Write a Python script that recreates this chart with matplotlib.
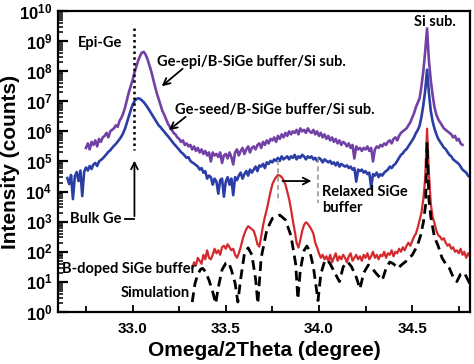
import numpy as np
import matplotlib
matplotlib.use('Agg')
import matplotlib.pyplot as plt
from matplotlib.ticker import FixedLocator, LogLocator, FuncFormatter, NullFormatter

plt.rcParams['mathtext.fontset'] = 'custom'
plt.rcParams['mathtext.rm'] = 'Liberation Sans:bold'
plt.rcParams['mathtext.bf'] = 'Liberation Sans:bold'

# log10(counts), 0.01 deg steps
epi_start, epi_stop = 32.75, 34.77
epi_log = [
    5.45, 5.6, 5.4, 5.65, 5.55, 5.7, 5.5, 5.75, 5.65, 5.8,
    5.85, 5.95, 5.8, 6.0, 6.05, 6.1, 6.2, 6.15, 6.35, 6.45,
    6.6, 6.8, 7.05, 7.3, 7.5, 7.7, 7.95, 8.15, 8.35, 8.5,
    8.62, 8.64, 8.55, 8.4, 8.2, 8.0, 7.75, 7.5, 7.27, 7.07,
    6.88, 6.68, 6.55, 6.4, 6.25, 6.15, 6.05, 5.95, 5.9, 5.8,
    5.75, 5.65, 5.7, 5.55, 5.6, 5.5, 5.55, 5.4, 5.5, 5.35,
    5.45, 5.3, 5.4, 5.25, 5.35, 5.2, 5.3, 5.0, 5.3, 5.2,
    5.25, 5.15, 5.3, 4.95, 5.2, 5.25, 5.1, 5.3, 5.15, 4.9,
    5.3, 5.4, 5.2, 5.35, 5.45, 5.25, 5.4, 5.5, 5.3, 5.45,
    5.5, 5.4, 5.55, 5.6, 5.45, 5.65, 5.55, 5.7, 5.6, 5.75,
    5.7, 5.8, 5.65, 5.85, 5.75, 5.9, 5.8, 5.95, 5.85, 6.0,
    5.9, 6.0, 5.95, 6.05, 5.9, 6.1, 6.0, 6.05, 5.95, 6.1,
    6.0, 5.95, 6.05, 5.9, 6.0, 5.85, 5.95, 5.8, 5.9, 5.75,
    5.85, 5.7, 5.8, 5.65, 5.75, 5.6, 5.7, 5.55, 5.65, 5.6,
    5.5, 5.6, 5.45, 5.55, 5.1, 5.5, 5.4, 5.45, 5.35, 5.45,
    5.4, 5.5, 5.35, 5.45, 5.0, 5.4, 5.5, 5.45, 5.55, 5.5,
    5.6, 5.55, 5.65, 5.7, 5.6, 5.75, 5.8, 5.7, 5.85, 5.95,
    6.0, 6.05, 6.1, 6.2, 6.3, 6.45, 6.6, 6.8, 6.95, 7.1,
    7.5, 8.0, 8.65, 9.42, 8.35, 7.7, 7.2, 6.8, 6.55, 6.4,
    6.3, 6.2, 6.1, 6.05, 6.0, 5.95, 5.9, 5.8, 5.85, 5.7,
    5.75, 5.6, 5.55,
]

seed_start, seed_stop = 32.65, 34.81
seed_log = [
    4.45, 4.25, 4.55, 3.75, 4.5, 4.65, 4.35, 4.7, 3.85, 4.65,
    4.8, 4.7, 4.85, 4.75, 4.9, 4.95, 4.85, 5.0, 5.05, 5.1,
    5.17, 5.24, 5.32, 5.37, 5.45, 5.52, 5.58, 5.66, 5.74, 5.83,
    5.95, 6.1, 6.3, 6.5, 6.7, 6.88, 7.0, 7.07, 7.1, 7.08,
    7.03, 6.97, 6.89, 6.8, 6.7, 6.6, 6.5, 6.4, 6.3, 6.2,
    6.14, 6.06, 5.99, 5.91, 5.84, 5.76, 5.68, 5.6, 5.53, 5.46,
    5.39, 5.31, 5.26, 5.19, 5.12, 5.14, 5.02, 4.97, 4.93, 4.88,
    4.83, 4.73, 4.78, 4.63, 4.68, 4.43, 4.53, 4.48, 4.23, 4.43,
    4.33, 3.93, 4.38, 4.43, 3.83, 4.33, 4.48, 4.23, 4.43, 3.88,
    4.48, 4.38, 4.53, 4.63, 4.43, 4.58, 4.68, 4.53, 4.73, 4.63,
    4.73, 4.83, 4.68, 4.87, 4.83, 4.92, 4.78, 4.97, 4.92, 5.02,
    4.97, 5.07, 5.02, 5.12, 5.02, 5.17, 5.07, 5.12, 5.17, 5.07,
    5.17, 5.12, 5.22, 5.07, 5.17, 5.12, 5.22, 5.17, 5.07, 5.17,
    5.12, 5.17, 5.07, 5.12, 5.02, 5.12, 5.07, 4.97, 5.07, 5.02,
    4.97, 5.02, 4.92, 4.97, 4.87, 4.97, 4.83, 4.92, 4.87, 4.83,
    4.87, 4.78, 4.83, 4.73, 4.78, 4.33, 4.73, 4.68, 4.73, 4.63,
    4.68, 4.58, 4.63, 4.13, 4.58, 4.53, 4.63, 4.48, 4.58, 4.53,
    4.63, 4.68, 4.73, 4.83, 4.78, 4.87, 4.92, 5.02, 5.12, 5.22,
    5.27, 5.36, 5.41, 5.51, 5.6, 5.7, 5.8, 5.94, 6.04, 6.19,
    6.48, 6.87, 7.36, 8.05, 7.27, 6.68, 6.33, 6.09, 5.9, 5.75,
    5.65, 5.56, 5.46, 5.41, 5.31, 5.22, 5.17, 5.07, 5.02, 4.97,
    4.92, 4.83, 4.73, 4.68, 4.63, 4.53, 4.48,
]

bsige_start, bsige_stop = 33.32, 34.81
bsige_log = [
    1.45, 1.65, 1.55, 1.8, 1.7, 1.6, 1.9, 1.75, 2.05, 1.8,
    1.75, 1.9, 2.1, 1.95, 2.05, 1.9, 2.15, 2.2, 2.1, 2.25,
    2.15, 2.05, 2.1, 1.9, 1.8, 1.95, 2.15, 2.4, 2.6, 2.75,
    2.85, 2.8, 2.75, 2.7, 2.5, 2.25, 2.17, 2.5, 2.87, 3.16,
    3.4, 3.7, 3.99, 4.24, 4.38, 4.48, 4.55, 4.53, 4.48, 4.38,
    4.24, 4.0, 3.75, 3.42, 3.03, 2.69, 2.3, 2.14, 2.39, 2.69,
    2.89, 2.98, 2.93, 2.84, 2.74, 2.6, 2.3, 2.14, 1.95, 1.8,
    1.9, 1.75, 1.85, 1.7, 1.9, 1.65, 1.8, 1.95, 1.7, 1.85,
    1.75, 1.9, 1.8, 1.65, 1.85, 1.95, 1.7, 1.8, 1.9, 1.75,
    1.85, 1.7, 1.9, 1.8, 1.95, 1.75, 1.85, 2.0, 1.8, 1.9,
    1.75, 1.9, 1.85, 2.0, 1.8, 1.95, 1.9, 2.05, 1.85, 2.0,
    1.95, 2.1, 2.0, 2.15, 2.05, 2.2, 2.3, 2.2, 2.35, 2.5,
    2.6, 2.8, 3.05, 3.3, 3.75, 4.43, 6.09, 4.6, 3.6, 3.15,
    2.95, 2.7, 2.55, 2.5, 2.4, 2.45, 2.3, 2.2, 2.25, 2.1,
    2.15, 2.0, 2.05, 1.95, 2.1, 1.9, 2.0, 1.8, 1.95, 1.85,
]

sim_x = [33.32, 33.335, 33.35, 33.365, 33.376, 33.39, 33.41, 33.43, 33.446, 33.46,
         33.48, 33.50, 33.515, 33.53, 33.55, 33.565, 33.58, 33.60, 33.62, 33.64,
         33.66, 33.672, 33.69, 33.72, 33.75, 33.79, 33.82, 33.85, 33.875, 33.887,
         33.90, 33.92, 33.935, 33.95, 33.97, 33.995, 34.01, 34.03, 34.045, 34.06,
         34.085, 34.11, 34.13, 34.155, 34.175, 34.20, 34.22, 34.24, 34.265, 34.285,
         34.31, 34.34, 34.36, 34.38, 34.40, 34.425, 34.44, 34.47, 34.50, 34.527,
         34.545, 34.56, 34.572, 34.58, 34.59, 34.60, 34.62, 34.64, 34.66, 34.68,
         34.70, 34.72, 34.74, 34.76, 34.78, 34.80, 34.81]
sim_log = [0.33, 0.95, 1.25, 1.42, 1.45, 1.35, 1.06, 0.67, 0.28, 0.82,
           1.4, 1.62, 1.65, 1.4, 0.96, 0.33, 1.1, 1.94, 2.13, 1.9,
           1.1, 0.28, 1.8, 2.72, 3.11, 3.22, 3.06, 2.53, 1.6, 0.43,
           1.4, 2.04, 2.19, 2.04, 1.5, 0.38, 1.26, 1.68, 1.73, 1.6,
           1.3, 1.01, 1.5, 1.66, 1.5, 1.16, 0.77, 1.3, 1.56, 1.45,
           1.26, 1.06, 1.45, 1.66, 1.6, 1.45, 1.55, 1.7, 1.89, 2.19,
           2.53, 2.97, 3.55, 5.6, 3.75, 3.16, 2.48, 2.19, 1.8, 1.6,
           1.45, 1.16, 1.01, 1.26, 1.3, 1.06, 0.92]

x_ticks = [33.0, 33.5, 34.0, 34.5]
x_tick_labels = ['33.0', '33.5', '34.0', '34.5']

c_epi = '#7241a6'
c_seed = '#2b3ea6'
c_red = '#d42a2e'

fig = plt.figure(figsize=(4.74, 3.64), dpi=100)
ax = fig.add_axes([0.1224, 0.1429, 0.869, 0.827])

epi_x = np.linspace(epi_start, epi_stop, len(epi_log))
seed_x = np.linspace(seed_start, seed_stop, len(seed_log))
bsige_x = np.linspace(bsige_start, bsige_stop, len(bsige_log))

ax.plot(epi_x, 10 ** np.array(epi_log), color=c_epi, lw=1.9)
ax.plot(seed_x, 10 ** np.array(seed_log), color=c_seed, lw=1.9)
ax.plot(bsige_x, 10 ** np.array(bsige_log), color=c_red, lw=1.6)
ax.plot(sim_x, 10 ** np.array(sim_log), color='black', lw=2.0, ls=(0, (3.5, 2)))

ax.set_yscale('log')
ax.set_xlim(32.6, 34.81)
ax.set_ylim(1, 1e10)

ax.xaxis.set_major_locator(FixedLocator(x_ticks))
ax.set_xticklabels(x_tick_labels)
ax.xaxis.set_minor_locator(FixedLocator([32.75, 33.25, 33.75, 34.25, 34.75]))
ax.yaxis.set_major_locator(LogLocator(base=10, numticks=20))
ax.yaxis.set_minor_locator(LogLocator(base=10, subs=np.arange(2, 10), numticks=20))
ax.yaxis.set_minor_formatter(NullFormatter())
ax.yaxis.set_major_formatter(FuncFormatter(lambda v, p: r'$\mathbf{10^{%d}}$' % round(np.log10(v))))

ax.tick_params(axis='both', which='both', direction='in', top=False, right=False)
ax.tick_params(axis='y', which='major', length=7, width=1.6, labelsize=12, pad=4)
ax.tick_params(axis='y', which='minor', length=3.5, width=1.1)
ax.tick_params(axis='x', which='major', length=5, width=1.3, labelsize=11, pad=7)
ax.tick_params(axis='x', which='minor', length=4, width=1.3)
for lab in ax.get_xticklabels():
    lab.set_fontweight('bold')
    lab.set_family('Liberation Sans')
for s in ax.spines.values():
    s.set_linewidth(1.6)

ax.set_xlabel('Omega/2Theta (degree)', fontsize=15, fontweight='bold', family='Liberation Sans', labelpad=4)
ax.set_ylabel('Intensity (counts)', fontsize=15, fontweight='bold', family='Liberation Sans')
ax.yaxis.set_label_coords(-0.092, 0.5)

tf = dict(fontsize=10.5, fontweight='bold', family='Lato', color='black')
ax.text(32.704, 10 ** 8.94, 'Epi-Ge', ha='left', va='center', **tf)
ax.text(33.129, 10 ** 8.3, 'Ge-epi/B-SiGe buffer/Si sub.', ha='left', va='center', **tf)
ax.text(33.226, 10 ** 6.71, 'Ge-seed/B-SiGe buffer/Si sub.', ha='left', va='center', **tf)
ax.text(34.624, 10 ** 9.63, 'Si sub.', ha='center', va='center', **tf)
ax.text(32.94, 10 ** 3.1, 'Bulk Ge', ha='right', va='center', **tf)
ax.text(34.016, 10 ** 3.72, 'Relaxed SiGe\nbuffer', ha='left', va='center', linespacing=1.25, **tf)
ax.text(32.624, 10 ** 1.43, 'B-doped SiGe buffer', ha='left', va='center', **tf)
ax.text(32.935, 10 ** 0.63, 'Simulation', ha='left', va='center', **tf)

arrow = dict(arrowstyle='->', color='black', lw=1.3, mutation_scale=12)
ax.annotate('', xy=(33.145, 10 ** 7.44), xytext=(33.28, 10 ** 8.14), arrowprops=arrow)
ax.annotate('', xy=(33.183, 10 ** 5.98), xytext=(33.296, 10 ** 6.54), arrowprops=arrow)
ax.annotate('', xy=(33.01, 10 ** 5.12), xytext=(33.01, 10 ** 3.09), arrowprops=arrow)
ax.plot([32.957, 33.01], [10 ** 3.09, 10 ** 3.09], color='black', lw=1.3)
ax.annotate('', xy=(33.975, 10 ** 4.35), xytext=(33.79, 10 ** 4.35), arrowprops=arrow)

# dotted bulk Ge position and grey relaxed SiGe markers
ax.plot([33.01, 33.01], [10 ** 9.43, 10 ** 5.38], color='black', lw=1.8, ls=(0, (1, 1.3)))
ax.plot([33.78, 33.78], [10 ** 5.05, 10 ** 3.65], color='#999999', lw=1.2, ls=(0, (3, 2)))
ax.plot([33.995, 33.995], [10 ** 5.1, 10 ** 3.62], color='#999999', lw=1.2, ls=(0, (3, 2)))

plt.savefig('out.png', dpi=100)
